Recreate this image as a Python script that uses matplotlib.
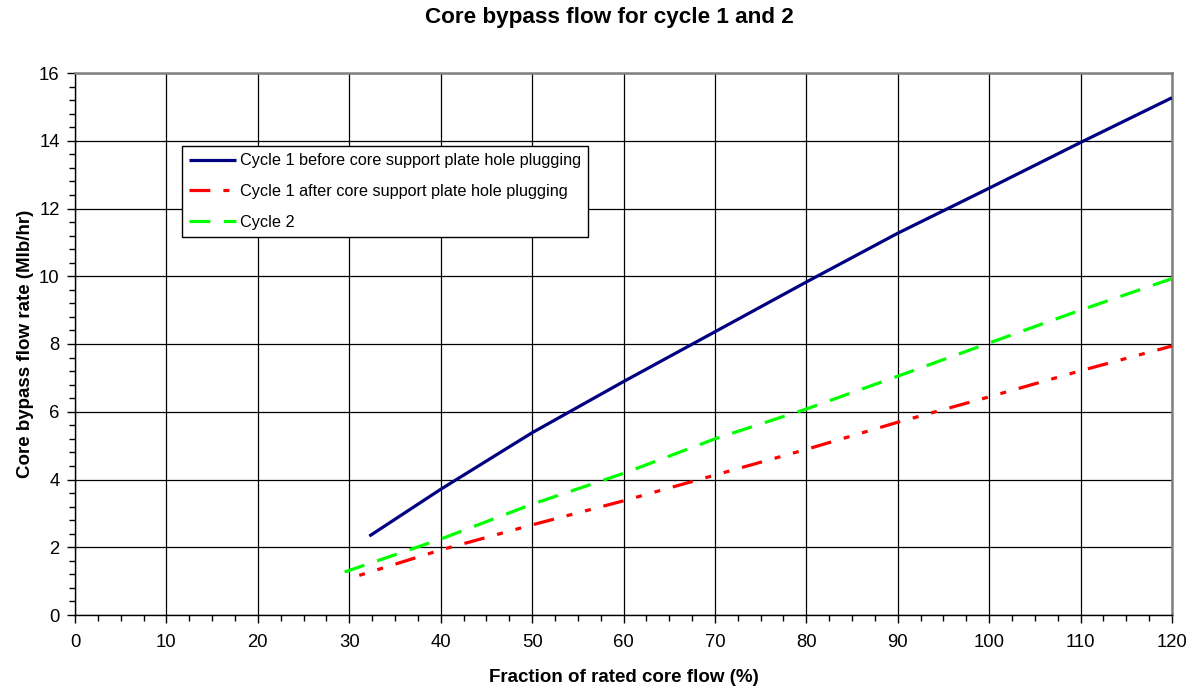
import matplotlib
matplotlib.use("Agg")
import matplotlib.pyplot as plt
from matplotlib.lines import Line2D
from matplotlib.ticker import MultipleLocator

plt.rcParams['font.family'] = ['Liberation Sans', 'DejaVu Sans']

# Data
x_before = [32.2, 40, 50, 60, 70, 80, 90, 100, 110, 120]
y_before = [2.33, 3.71, 5.38, 6.89, 8.36, 9.83, 11.27, 12.60, 13.95, 15.27]

x_after = [31.1, 40, 50, 60, 70, 80, 90, 100, 110, 120]
y_after = [1.17, 1.92, 2.66, 3.37, 4.13, 4.89, 5.69, 6.44, 7.21, 7.94]

x_cycle2 = [29.5, 40, 50, 60, 70, 80, 90, 100, 110, 120]
y_cycle2 = [1.27, 2.24, 3.27, 4.18, 5.20, 6.08, 7.05, 8.03, 9.00, 9.93]

labels = ["Cycle 1 before core support plate hole plugging",
          "Cycle 1 after core support plate hole plugging",
          "Cycle 2"]
title = "Core bypass flow for cycle 1 and 2"
xlabel = "Fraction of rated core flow (%)"
ylabel = "Core bypass flow rate (Mlb/hr)"

plt.rcParams['lines.scale_dashes'] = False

fig = plt.figure(figsize=(11.99, 6.86), dpi=100)
ax = fig.add_axes([75/1199, 71/686, (1172-75)/1199, (615-73)/686])

lw = 2.3
red_pattern = (15, 9.4, 4.3, 9.4, 4.3, 9.4)
green_pattern = (15, 9.7)
ax.plot(x_before, y_before, color='#000080', lw=lw,
        solid_capstyle='butt', zorder=3)
ax.plot(x_after, y_after, color='#FF0000', lw=lw,
        linestyle=(24.5, red_pattern), dash_capstyle='butt', zorder=3)
ax.plot(x_cycle2, y_cycle2, color='#00FF00', lw=lw,
        linestyle=(0, green_pattern), dash_capstyle='butt', zorder=3)

handles = [
    Line2D([], [], color='#000080', lw=lw, solid_capstyle='butt'),
    Line2D([], [], color='#FF0000', lw=lw, linestyle=(0, red_pattern), dash_capstyle='butt'),
    Line2D([], [], color='#00FF00', lw=lw, linestyle=(0, green_pattern), dash_capstyle='butt'),
]

ax.set_xlim(0, 120)
ax.set_ylim(0, 16)
ax.xaxis.set_major_locator(MultipleLocator(10))
ax.xaxis.set_minor_locator(MultipleLocator(2.5))
ax.yaxis.set_major_locator(MultipleLocator(2))
ax.yaxis.set_minor_locator(MultipleLocator(0.4))

ax.grid(True, which='major', color='#000000', lw=0.9, zorder=1)
ax.set_axisbelow(True)

for s in ['top', 'right']:
    ax.spines[s].set_color('#808080')
    ax.spines[s].set_linewidth(1.8)
for s in ['left', 'bottom']:
    ax.spines[s].set_color('#000000')
    ax.spines[s].set_linewidth(1.0)

ax.tick_params(which='major', direction='out', length=6, width=1, labelsize=13.3)
ax.tick_params(axis='x', which='major', pad=8)
ax.tick_params(axis='y', which='major', pad=5)
ax.tick_params(which='minor', direction='out', length=4, width=1)

ax.set_xlabel(xlabel, fontsize=13.5, fontweight='bold', labelpad=13)
ax.set_ylabel(ylabel, fontsize=13.5, fontweight='bold', labelpad=4)
fig.text(609/1199, 1 - 18/686, title, fontsize=16.2, fontweight='bold',
         ha='center', va='center')

leg = ax.legend(handles, labels, loc='upper left',
                bbox_to_anchor=((182-75)/1097, (615-146)/542),
                fontsize=11.7, frameon=True, fancybox=False, framealpha=1,
                edgecolor='black', handlelength=2.9, handletextpad=0.2,
                borderpad=0.45, labelspacing=0.97, borderaxespad=0)
leg.get_frame().set_linewidth(1.0)

fig.savefig('out.png', dpi=100)
